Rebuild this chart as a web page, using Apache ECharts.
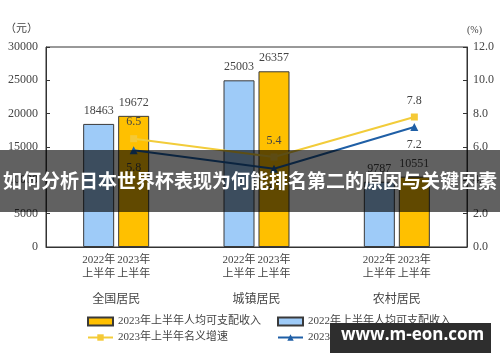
<!DOCTYPE html>
<html>
<head>
<meta charset="utf-8">
<script src="https://cdn.jsdelivr.net/npm/echarts@6/dist/echarts.min.js"></script>
<style>html,body{margin:0;padding:0;background:#fff}#c{width:500px;height:362px}</style>
</head>
<body>
<div id="c"></div>
<script>
// ---- data ----
const groups = ['全国居民', '城镇居民', '农村居民'];
const periods = ['2022年', '2023年'];
const halfLabel = '上半年';
const income2022 = [18463, 25003, 9787];
const income2023 = [19672, 26357, 10551];
const nominalGrowth = [6.5, 5.4, 7.8];
const realGrowth = [5.8, 4.7, 7.2];
const leftTicks = { min: 0, max: 30000, interval: 5000 };
const rightTicks = { min: 0, max: 12, interval: 2 };
const names = {
  inc2023: '2023年上半年人均可支配收入',
  inc2022: '2022年上半年人均可支配收入',
  nominal: '2023年上半年名义增速',
  real: '2023年上半年实际增速'
};
const bannerText = '如何分析日本世界杯表现为何能排名第二的原因与关键因素';
const watermarkText = 'www.m-eon.com';

// ---- layout ----
const G = { left: 46, right: 33, top: 47, bottom: 115 };
const BAR_W = 31, GAP = 4;
const shift = (BAR_W + GAP) / 2; // line points sit on the 2023 bar centres
const SERIF = '"Liberation Serif", "DejaVu Serif", "Noto Sans CJK SC", serif';
const txt = '#444';

const chart = echarts.init(document.getElementById('c'), null, { renderer: 'canvas' });
chart.setOption({
  animation: false,
  backgroundColor: '#fff',
  grid: [
    { left: G.left, right: G.right, top: G.top, bottom: G.bottom, show: true, borderColor: '#333', borderWidth: 1, backgroundColor: 'transparent' },
    { left: G.left + shift, right: G.right - shift, top: G.top, bottom: G.bottom, show: false }
  ],
  xAxis: [
    {
      type: 'category', gridIndex: 0, data: groups,
      axisLine: { lineStyle: { color: '#333' } },
      axisTick: { show: false },
      axisLabel: {
        margin: 6, interval: 0,
        formatter: g => '{p|' + periods[0] + '}{p|' + periods[1] + '}\n{p|' + halfLabel + '}{p|' + halfLabel + '}\n{g|' + g + '}',
        rich: {
          p: { width: BAR_W + GAP, align: 'center', fontSize: 11, lineHeight: 14, color: txt, fontFamily: SERIF },
          g: { fontSize: 12, lineHeight: 34, color: txt, fontFamily: SERIF, align: 'center', padding: [4, 0, 0, 0] }
        }
      }
    },
    { type: 'category', gridIndex: 1, data: groups, show: false }
  ],
  yAxis: [
    {
      type: 'value', gridIndex: 0, position: 'left',
      min: leftTicks.min, max: leftTicks.max, interval: leftTicks.interval,
      name: '（元）', nameLocation: 'end', nameGap: 12,
      nameTextStyle: { color: txt, fontSize: 11, fontFamily: SERIF, align: 'right', padding: [0, 8, 0, 0] },
      axisLine: { show: true, lineStyle: { color: '#333' } },
      axisTick: { show: true, inside: true, length: 4, lineStyle: { color: '#333' } },
      axisLabel: { color: txt, fontSize: 12, fontFamily: SERIF, margin: 8, formatter: v => String(v) },
      splitLine: { show: false }
    },
    {
      type: 'value', gridIndex: 0, position: 'right',
      min: rightTicks.min, max: rightTicks.max, interval: rightTicks.interval,
      name: '(%)', nameLocation: 'end', nameGap: 12,
      nameTextStyle: { color: txt, fontSize: 10, fontFamily: SERIF, align: 'left', padding: [0, 0, 0, 0] },
      axisLine: { show: true, lineStyle: { color: '#333' } },
      axisTick: { show: true, inside: true, length: 4, lineStyle: { color: '#333' } },
      axisLabel: { color: txt, fontSize: 12, fontFamily: SERIF, margin: 6, formatter: v => v.toFixed(1) },
      splitLine: { show: false }
    },
    { type: 'value', gridIndex: 1, min: rightTicks.min, max: rightTicks.max, show: false, splitLine: { show: false } }
  ],
  legend: [
    {
      left: 82, top: 311, orient: 'vertical', itemGap: 5, itemWidth: 25, itemHeight: 8,
      data: [{ name: names.inc2023, icon: 'rect' }, { name: names.nominal }],
      textStyle: { color: txt, fontSize: 11, fontFamily: SERIF }
    },
    {
      left: 272, top: 311, orient: 'vertical', itemGap: 5, itemWidth: 25, itemHeight: 8,
      data: [{ name: names.inc2022, icon: 'rect' }, { name: names.real }],
      textStyle: { color: txt, fontSize: 11, fontFamily: SERIF }
    }
  ],
  series: [
    {
      name: names.inc2022, type: 'bar', xAxisIndex: 0, yAxisIndex: 0,
      data: income2022, barWidth: BAR_W, barGap: (GAP / BAR_W * 100).toFixed(1) + '%',
      itemStyle: { color: '#9ECBF8', borderColor: '#3a3a3a', borderWidth: 1 },
      label: { show: true, position: 'top', distance: 7, color: txt, fontSize: 12, fontFamily: SERIF }
    },
    {
      name: names.inc2023, type: 'bar', xAxisIndex: 0, yAxisIndex: 0,
      data: income2023, barWidth: BAR_W,
      itemStyle: { color: '#FFC000', borderColor: '#3a3a3a', borderWidth: 1 },
      label: { show: true, position: 'top', distance: 7, color: txt, fontSize: 12, fontFamily: SERIF }
    },
    {
      name: names.nominal, type: 'line', xAxisIndex: 1, yAxisIndex: 2,
      data: nominalGrowth, symbol: 'rect', symbolSize: 7,
      lineStyle: { color: '#F2CC3A', width: 2 }, itemStyle: { color: '#F5C936' },
      label: { show: true, position: 'top', distance: 7, color: txt, fontSize: 12, fontFamily: SERIF, formatter: p => p.value.toFixed(1) }
    },
    {
      name: names.real, type: 'line', xAxisIndex: 1, yAxisIndex: 2,
      data: realGrowth, symbol: 'triangle', symbolSize: 8,
      lineStyle: { color: '#1F5FA6', width: 2 }, itemStyle: { color: '#1F5FA6' },
      label: { show: true, position: 'bottom', distance: 8, color: txt, fontSize: 12, fontFamily: SERIF, formatter: p => p.value.toFixed(1) }
    }
  ],
  graphic: [
    { type: 'rect', left: 0, top: 150, z: 100, shape: { width: 500, height: 62 }, style: { fill: 'rgba(0,0,0,0.62)' } },
    { type: 'text', left: 'center', top: 171, z: 101, style: { text: bannerText, fill: '#fff', font: 'bold 19px "Noto Sans CJK SC", sans-serif' } },
    { type: 'rect', left: 330, top: 323, z: 100, shape: { width: 161, height: 30 }, style: { fill: '#2e2e2e' } },
    { type: 'text', left: 341, top: 327, z: 101, style: { text: watermarkText, fill: '#fff', font: 'bold 17px "Open Sans", sans-serif' } }
  ]
});
</script>
</body>
</html>
